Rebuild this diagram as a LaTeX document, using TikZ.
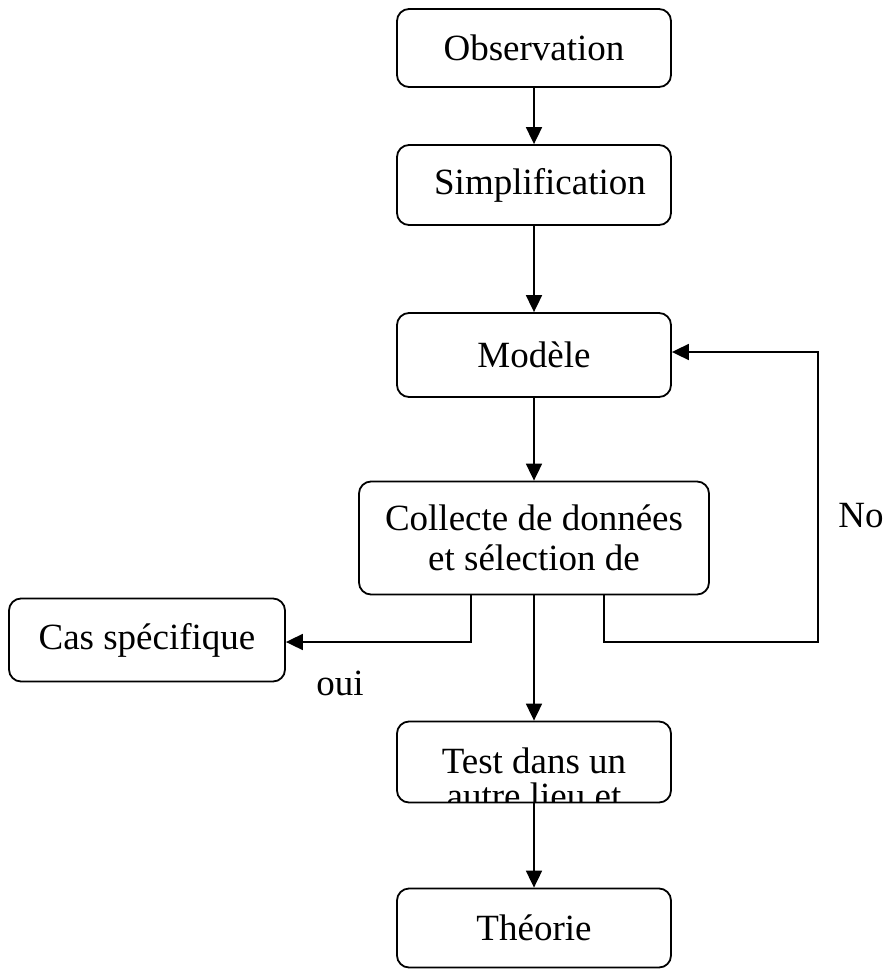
\documentclass[tikz,border=0pt]{standalone}
\usepackage{fontspec}
\setmainfont{Liberation Serif}
\usetikzlibrary{arrows.meta}

\tikzset{
	box/.style={draw, line width=1.8pt, rounded corners=12pt, minimum width=274pt,
		inner sep=0pt, align=center, font=\fontsize{37}{40}\selectfont},
	arr/.style={line width=1.8pt, -{Triangle[length=17pt,width=16pt]}},
	lbl/.style={inner sep=0pt, font=\fontsize{37}{40}\selectfont}
}

\begin{document}
\begin{tikzpicture}[x=1pt,y=-1pt]
		\useasboundingbox (0,0) rectangle (887,971);
		% the boxes
		\node[box, minimum height=78pt] (obs) at (534,48) {Observation};
		\node[box, minimum height=80pt] (simp) at (534,185) {\hspace{12pt}Simplification};
		\node[box, minimum height=84pt] (mod) at (534,355) {Mod\`ele};
		\node[box, minimum width=350pt, minimum height=113pt] (coll) at (534,538) {Collecte de donn\'ees\\et s\'election de};
		\node[box, minimum width=276pt, minimum height=83pt] (cas) at (147,640) {Cas sp\'ecifique};
		\node[box, minimum height=81pt, path picture={
			\node[lbl, align=center, anchor=base, font=\fontsize{37}{35}\selectfont] at ([yshift=-46pt]path picture bounding box.center) {Test dans un\\autre lieu et};
		}] (test) at (534,762) {};
		\node[box, minimum height=79pt] (theo) at (534,928) {Th\'eorie};
		% the arrows
		\draw[arr] (obs) -- (simp);
		\draw[arr] (simp) -- (mod);
		\draw[arr] (mod) -- (coll);
		\draw[arr] (coll) -- (test);
		\draw[arr] (test) -- (theo);
		\coordinate (oui) at (471,642);
		\coordinate (non) at (818,642);
		\draw[arr] (coll.south -| oui) -- (oui) -- (cas.east |- oui);
		\draw[arr] (coll.south -| 604,0) -- (604,642) -- (non) -- (818,352) -- (mod.east |- 0,352);
		% the labels
		\node[lbl, anchor=base] (ouilbl) at (340,695) {oui};
		\node[lbl, anchor=base] (nolbl) at (861,527) {No};
\end{tikzpicture}
\end{document}
